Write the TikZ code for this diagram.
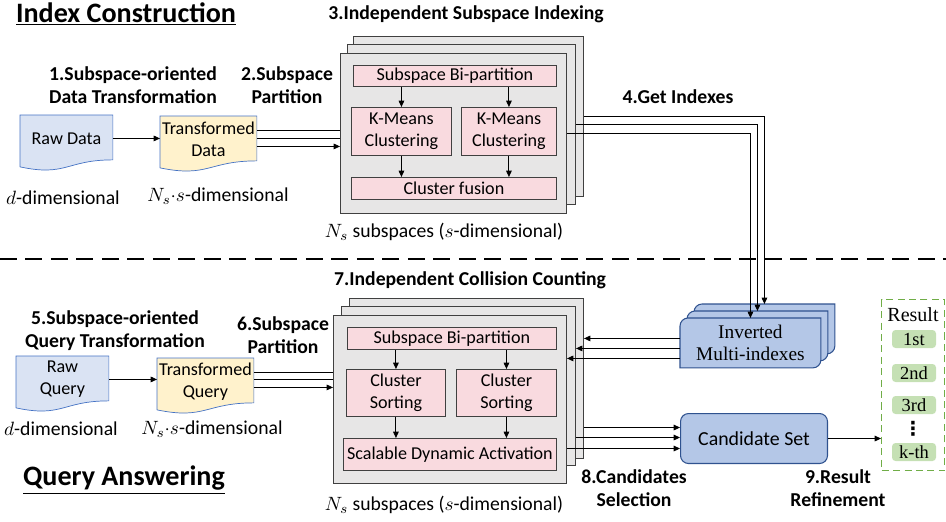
\documentclass[tikz,border=0pt]{standalone}
\usepackage{fontspec}
\setmainfont{Carlito}
\newfontfamily\timesfont{Liberation Serif}
\newfontfamily\symfont{DejaVu Sans}
\usetikzlibrary{arrows.meta, calc, positioning, backgrounds}

\definecolor{docblue}{HTML}{4472C4}
\definecolor{rawfill}{HTML}{DAE3F3}
\definecolor{transfill}{HTML}{FFF2CC}
\definecolor{stackfill}{HTML}{E7E6E6}
\definecolor{stackline}{HTML}{404040}
\definecolor{pinkfill}{HTML}{F9DADF}
\definecolor{invfill}{HTML}{B4C7E7}
\definecolor{invline}{HTML}{2F528F}
\definecolor{resgreen}{HTML}{70AD47}
\definecolor{pillfill}{HTML}{C5E0B4}

% outline of a document sheet (wavy bottom) round a node
\newcommand{\docpath}[1]{(#1.north west) -- (#1.north east) -- ([yshift=0.04cm]#1.south east)
  .. controls ([yshift=0.04cm]#1.south) and ([yshift=-0.3cm]#1.south) .. ([yshift=-0.1cm]#1.south west) -- cycle}
% outline of one inverted index card
\newcommand{\invpath}[1]{(#1.west) [rounded corners=0.16cm] -- (#1.north west) -- (#1.north) [sharp corners]
  -- (#1.north east) -- (#1.east) [rounded corners=0.16cm] -- (#1.south east) -- (#1.south) [sharp corners]
  -- (#1.south west) -- cycle}

\tikzset{
  boxfont/.style={font=\fontsize{10.3}{12.5}\selectfont},
  headfont/.style={font=\bfseries\fontsize{11.2}{13.1}\selectfont, align=center},
  titlefont/.style={font=\bfseries\fontsize{16}{19}\selectfont},
  dimfont/.style={font=\fontsize{11.2}{13.4}\selectfont},
  docnode/.style={anchor=north west, inner sep=0pt, boxfont, align=center, minimum height=0.92cm},
  stackbox/.style={draw=stackline, fill=stackfill, line width=0.6pt, anchor=north west, inner sep=0pt},
  pinkbox/.style={draw=stackline, fill=pinkfill, anchor=north west, inner sep=0pt, boxfont, align=center},
  invnode/.style={anchor=north west, inner sep=0pt, minimum width=2.8cm, minimum height=0.98cm,
    font=\timesfont\fontsize{11}{12.5}\selectfont, align=center},
  invcard/.style={draw=invline, fill=invfill, line width=0.6pt},
  candbox/.style={draw=invline, fill=invfill, line width=0.6pt, rounded corners=0.16cm, anchor=north west,
    font=\fontsize{11.3}{13}\selectfont},
  resbox/.style={draw=resgreen, dash pattern=on 4pt off 2.5pt, line width=0.8pt, anchor=north west},
  pill/.style={fill=pillfill, rounded corners=2pt, minimum width=0.88cm, minimum height=0.36cm, inner sep=0pt,
    font=\timesfont\fontsize{10.5}{12}\selectfont},
  sepline/.style={line width=1.7pt, dash pattern=on 0.34cm off 0.17cm},
}

\begin{document}
\begin{tikzpicture}[x=0.02cm, y=-0.02cm, line width=0.5pt, >={Triangle[length=3.6pt,width=3.2pt]}]
  \useasboundingbox (0,0) rectangle (946,521);

  % ---- index construction ----
  \node[titlefont] (icTitle) at (126,14) {\underline{Index Construction}};
  \node[headfont] (stepOne) at (133,85) {1.Subspace-oriented\\Data Transformation};
  \node[headfont] (stepTwo) at (287,85) {2.Subspace\\Partition};
  \node[headfont] (stepThree) at (466,14) {3.Independent Subspace Indexing};
  \node[headfont] (stepFour) at (678,97) {4.Get Indexes};

  \node[docnode, minimum width=1.84cm] (rawData) at (20,115) {Raw Data};
  \node[docnode, minimum width=1.92cm] (transData) at (160,116) {Transformed\\Data};
  \node[dimfont] (rawDim) at (63,198) {$d$-dimensional};
  \node[dimfont] (transDim) at (218,196) {$N_s{\cdot}s$-dimensional};
  \draw[->] (rawData.east) -- (rawData.east -| transData.west);

  % stacked subspaces
  \node[stackbox, minimum width=4.6cm, minimum height=3.2cm] (isBack) at (353,36) {};
  \node[stackbox, minimum width=4.56cm, minimum height=3.2cm] (isMid) at (347,44) {};
  \node[stackbox, minimum width=4.52cm, minimum height=3.2cm] (isFront) at (340,53) {};
  \node[dimfont] (isNote) at (444,232) {$N_s$ subspaces ($s$-dimensional)};

  \node[pinkbox, minimum width=4.06cm, minimum height=0.42cm] (isSplit) at (353,65) {Subspace Bi-partition};
  \node[pinkbox, minimum width=2cm, minimum height=0.96cm] (kmLeft) at (351,107) {K-Means\\Clustering};
  \node[pinkbox, minimum width=1.9cm, minimum height=0.96cm] (kmRight) at (461,107) {K-Means\\Clustering};
  \node[pinkbox, minimum width=4.1cm, minimum height=0.44cm] (isFuse) at (351,177) {Cluster fusion};
  \draw[->] (isSplit.south -| kmLeft) -- (kmLeft);
  \draw[->] (isSplit.south -| kmRight) -- (kmRight);
  \draw[->] (kmLeft) -- (kmLeft |- isFuse.north);
  \draw[->] (kmRight) -- (kmRight |- isFuse.north);

  % separator
  \draw[sepline] (0,259) -- (946,259);

  % ---- query answering ----
  \node[titlefont] (qaTitle) at (124,480) {\underline{Query Answering}};
  \node[headfont] (stepFive) at (115,331) {5.Subspace-oriented\\Query Transformation};
  \node[headfont] (stepSix) at (283,335) {6.Subspace\\Partition};
  \node[headfont] (stepSeven) at (470,280) {7.Independent Collision Counting};
  \node[headfont] (stepEight) at (634,488) {8.Candidates\\Selection};
  \node[headfont] (stepNine) at (838,488) {9.Result\\Refinement};

  \node[docnode, minimum width=1.84cm] (rawQuery) at (16,356) {Raw\\Query};
  \node[docnode, minimum width=1.92cm] (transQuery) at (157,358) {Transformed\\Query};
  \node[dimfont] (rawQDim) at (61,429) {$d$-dimensional};
  \node[dimfont] (transQDim) at (212,429) {$N_s{\cdot}s$-dimensional};
  \draw[->] (rawQuery.east) -- (rawQuery.east -| transQuery.west);

  \node[stackbox, minimum width=4.68cm, minimum height=3.2cm] (ccBack) at (349,298) {};
  \node[stackbox, minimum width=4.68cm, minimum height=3.18cm] (ccMid) at (341,306) {};
  \node[stackbox, minimum width=4.66cm, minimum height=3.36cm] (ccFront) at (333,315) {};
  \node[dimfont] (ccNote) at (444,505) {$N_s$ subspaces ($s$-dimensional)};

  \node[pinkbox, minimum width=4.18cm, minimum height=0.44cm] (ccSplit) at (347,327) {Subspace Bi-partition};
  \node[pinkbox, minimum width=1.98cm, minimum height=0.94cm] (sortLeft) at (346,369) {Cluster\\Sorting};
  \node[pinkbox, minimum width=2cm, minimum height=0.94cm] (sortRight) at (456,369) {Cluster\\Sorting};
  \node[pinkbox, minimum width=4.26cm, minimum height=0.64cm] (ccAct) at (343,438) {Scalable Dynamic Activation};
  \draw[->] (ccSplit.south -| sortLeft) -- (sortLeft);
  \draw[->] (ccSplit.south -| sortRight) -- (sortRight);
  \draw[->] (sortLeft) -- (sortLeft |- ccAct.north);
  \draw[->] (sortRight) -- (sortRight |- ccAct.north);

  % inverted multi-indexes
  \node[invnode] (imBack) at (694,304) {};
  \node[invnode] (imMid) at (687,311) {};
  \node[invnode] (imFront) at (680,318) {Inverted\\Multi-indexes};

  \node[candbox, minimum width=2.94cm, minimum height=1cm] (cand) at (680,413) {Candidate Set};

  % result list
  \node[resbox, minimum width=1.26cm, minimum height=3.42cm] (result) at (881,299) {};
  \node[font=\timesfont\fontsize{11.4}{13}\selectfont] (resTitle) at (913,315) {Result};
  \node[pill] (resFirst) at (914,339) {1st};
  \node[pill] (resSecond) at (914,373) {2nd};
  \node[pill] (resThird) at (914,405) {3rd};
  \node[inner sep=0pt, font=\symfont\bfseries\fontsize{11}{11}\selectfont] (resDots) at (913,429) {⋮};
  \node[pill] (resLast) at (914,452) {k-th};

  % connectors
  \draw[->] (isBack.east) -| (imBack.north);
  \draw[->] (isMid.east) -| (imMid.north);
  \draw[->] (isFront.east) -| (imFront.north);

  \draw[->] ([yshift=0.09cm]imFront.west) coordinate (inA) -- (inA -| ccBack.east);
  \draw[->] ([yshift=-0.11cm]imFront.west) coordinate (inB) -- (inB -| ccMid.east);
  \draw[->] ([yshift=-0.31cm]imFront.west) coordinate (inC) -- (inC -| ccFront.east);

  \draw[<-] ([yshift=0.22cm]cand.west) coordinate (outA) -- (outA -| ccBack.east);
  \draw[<-] ([yshift=0.02cm]cand.west) coordinate (outB) -- (outB -| ccMid.east);
  \draw[<-] ([yshift=-0.2cm]cand.west) coordinate (outC) -- (outC -| ccFront.east);

  \draw[->] (cand.east) -- (cand.east -| result.west);

  \begin{scope}[on background layer]
    \filldraw[draw=docblue, fill=rawfill] \docpath{rawData};
    \filldraw[draw=docblue, fill=transfill] \docpath{transData};
    \filldraw[draw=docblue, fill=rawfill] \docpath{rawQuery};
    \filldraw[draw=docblue, fill=transfill] \docpath{transQuery};
    \filldraw[invcard] \invpath{imBack};
    \filldraw[invcard] \invpath{imMid};
    \filldraw[invcard] \invpath{imFront};
    % lines into the stacks, partly hidden
    \draw[->] ([yshift=0.18cm]transData.east) coordinate (pA) -- (pA -| isBack.west);
    \draw[->] ([yshift=0.02cm]transData.east) coordinate (pB) -- (pB -| isMid.west);
    \draw[->] ([yshift=-0.14cm]transData.east) coordinate (pC) -- (pC -| isFront.west);
    \draw[->] ([yshift=0.18cm]transQuery.east) coordinate (qA) -- (qA -| ccBack.west);
    \draw[->] ([yshift=0.04cm]transQuery.east) coordinate (qB) -- (qB -| ccMid.west);
    \draw[->] ([yshift=-0.12cm]transQuery.east) coordinate (qC) -- (qC -| ccFront.west);
  \end{scope}
\end{tikzpicture}
\end{document}
